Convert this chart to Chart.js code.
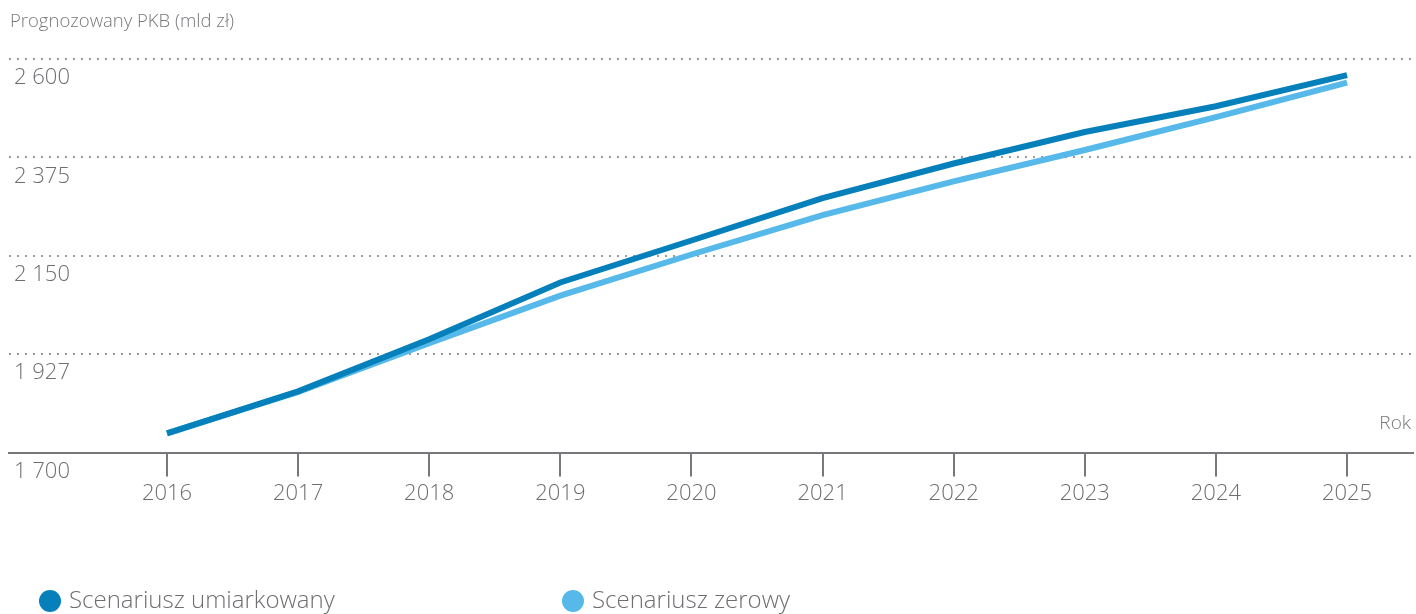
<!DOCTYPE html>
<html lang="pl">
<head>
<meta charset="utf-8">
<title>Prognozowany PKB</title>
<script src="https://cdn.jsdelivr.net/npm/chart.js@4.4.1/dist/chart.umd.min.js"></script>
<style>
  html, body { margin: 0; padding: 0; background: #fff; }
  #wrap { position: relative; width: 1416px; height: 614px; }
</style>
</head>
<body>
<div id="wrap"><canvas id="pkbChart" width="1416" height="614"></canvas></div>
<script>
// lata prognozy
const years = [2016, 2017, 2018, 2019, 2020, 2021, 2022, 2023, 2024, 2025];

// PKB w mld zł
const umiarkowany = [1744, 1840, 1959, 2089, 2185, 2282, 2361, 2433, 2492, 2563];
const zerowy      = [1744, 1839, 1950, 2059, 2153, 2243, 2320, 2392, 2467, 2546];

const seriesNames  = ['Scenariusz umiarkowany', 'Scenariusz zerowy'];
const seriesColors = ['#0680ba', '#56b9ea'];

// podpisy osi Y (od dołu)
const yTickValues = [1700, 1925, 2150, 2375, 2600];
const yTickLabels = ['1 700', '1 927', '2 150', '2 375', '2 600'];

const yTitle = 'Prognozowany PKB (mld zł)';
const xTitle = 'Rok';

const FONT = '"Open Sans", "Noto Sans", sans-serif';
const TEXT = '#6d6e71';

function toPoints(values) {
  return years.map((y, i) => ({ x: y, y: values[i] }));
}

// tytuł osi Y, "Rok" i legenda rysowane ręcznie
const extras = {
  id: 'extras',
  afterDraw(chart) {
    const { ctx, chartArea } = chart;
    ctx.save();
    ctx.fillStyle = '#77787b';
    ctx.textBaseline = 'middle';
    ctx.font = '300 18.5px ' + FONT;
    ctx.textAlign = 'left';
    ctx.fillText(yTitle, 10, 22);
    ctx.font = '300 19px ' + FONT;
    ctx.textAlign = 'right';
    ctx.fillText(xTitle, chartArea.right - 2, 424);

    const legendX = [50, 573];
    ctx.font = '300 24px ' + FONT;
    ctx.textAlign = 'left';
    chart.data.datasets.forEach((ds, i) => {
      ctx.fillStyle = ds.borderColor;
      ctx.beginPath();
      ctx.arc(legendX[i], 601, 11, 0, Math.PI * 2);
      ctx.fill();
      ctx.fillStyle = TEXT;
      ctx.fillText(ds.label, legendX[i] + 19, 601);
    });
    ctx.restore();
  }
};

const data = {
  datasets: [
    {
      label: seriesNames[0],
      data: toPoints(umiarkowany),
      borderColor: seriesColors[0],
      backgroundColor: seriesColors[0],
      borderWidth: 6,
      pointRadius: 0,
      tension: 0
    },
    {
      label: seriesNames[1],
      data: toPoints(zerowy),
      borderColor: seriesColors[1],
      backgroundColor: seriesColors[1],
      borderWidth: 6,
      pointRadius: 0,
      tension: 0
    }
  ]
};

const config = {
  type: 'line',
  data,
  options: {
    responsive: false,
    animation: false,
    layout: { padding: { left: 9, right: 3, top: 59, bottom: 103 } },
    plugins: {
      legend: { display: false },
      title: { display: false },
      tooltip: { enabled: false }
    },
    scales: {
      x: {
        type: 'linear',
        min: 2014.795,
        max: 2025.503,
        afterBuildTicks: scale => { scale.ticks = years.map(v => ({ value: v })); },
        ticks: {
          padding: 4,
          color: TEXT,
          font: { family: FONT, size: 22, weight: '300' },
          callback: v => String(v),
          maxRotation: 0
        },
        grid: {
          drawOnChartArea: false,
          drawTicks: true,
          tickLength: 24,
          color: '#77787b',
          lineWidth: 2
        },
        border: { display: true, color: '#77787b', width: 2 }
      },
      y: {
        min: 1700,
        max: 2600,
        afterBuildTicks: scale => { scale.ticks = yTickValues.map(v => ({ value: v })); },
        afterFit: scale => { scale.width = 0; },
        ticks: {
          mirror: true,
          padding: 5,
          labelOffset: 19,
          color: TEXT,
          font: { family: FONT, size: 22, weight: '300' },
          callback: (v, i) => yTickLabels[i]
        },
        grid: {
          drawTicks: false,
          color: c => (c.tick && c.tick.value === 1700) ? 'rgba(0,0,0,0)' : '#9b9b9b',
          lineWidth: 2
        },
        border: { display: false, dash: [2, 6] }
      }
    }
  },
  plugins: [extras]
};

const pkbChart = new Chart(document.getElementById('pkbChart'), config);
</script>
</body>
</html>
